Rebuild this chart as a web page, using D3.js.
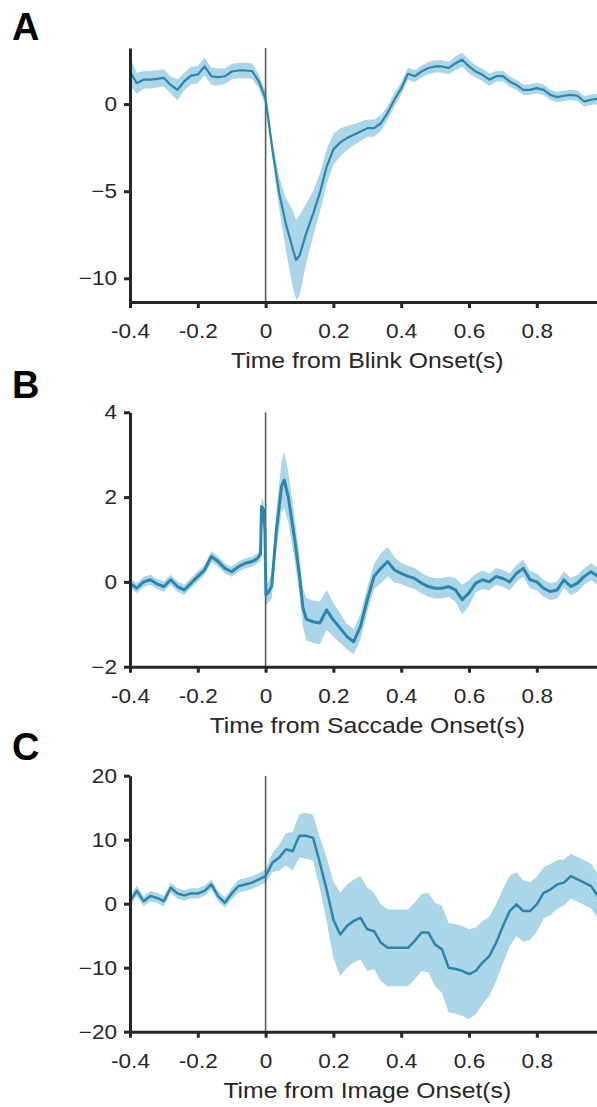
<!DOCTYPE html>
<html>
<head>
<meta charset="utf-8">
<script src="https://cdn.jsdelivr.net/npm/d3@7"></script>
<style>
    body { margin: 0; background: #fff; }
    svg { display: block; }
    .axis path, .axis line { stroke: #262626; stroke-width: 3; }
    .axis text { fill: #262626; font-family: "Liberation Sans", Arial, sans-serif; }
</style>
</head>
<body>
<div id="chart"></div>
<script>
// A - blink onset (time in s, mean and sem)
const timeA = [-0.4,-0.38,-0.36,-0.34,-0.32,-0.3,-0.28,-0.26,-0.24,-0.22,
    -0.2,-0.18,-0.16,-0.14,-0.12,-0.1,-0.08,-0.06,-0.04,-0.02,
    0,0.02,0.04,0.06,0.08,0.09,
    0.1,0.12,0.14,0.16,0.18,0.2,0.22,0.24,0.26,0.28,
    0.3,0.32,0.34,0.36,0.38,0.4,0.42,0.44,0.46,0.48,
    0.5,0.52,0.54,0.56,0.58,0.6,0.62,0.64,0.66,0.68,
    0.7,0.72,0.74,0.76,0.78,0.8,0.82,0.84,0.86,0.88,
    0.9,0.92,0.94,0.96,0.98,1.0];
const meanA = [1.87,1.2,1.4,1.4,1.45,1.5,1.1,0.82,1.3,1.63,
    1.7,2.16,1.6,1.55,1.6,1.87,1.93,1.93,1.9,1.3,
    0.3,-2.6,-5.1,-6.9,-8.3,-8.95,
    -8.7,-7.4,-6.3,-5.1,-3.6,-2.6,-2.2,-1.95,-1.76,-1.57,
    -1.38,-1.38,-1.1,-0.5,0.25,0.9,1.74,1.6,1.87,2.07,
    2.16,2.16,2.07,2.35,2.55,2.16,1.87,1.68,1.4,1.6,
    1.6,1.3,1.1,0.82,0.82,0.92,0.82,0.53,0.4,0.48,
    0.53,0.48,0.15,0.25,0.3,0.35];
const semA = [0.8,0.6,0.5,0.5,0.5,0.5,0.5,0.6,0.5,0.5,
    0.5,0.5,0.5,0.5,0.45,0.45,0.45,0.45,0.45,0.4,
    0.4,0.5,0.9,1.5,2.2,2.3,
    2.3,1.7,1.3,1.1,1.0,0.9,0.8,0.7,0.6,0.55,
    0.5,0.5,0.45,0.4,0.4,0.35,0.35,0.35,0.35,0.35,
    0.35,0.35,0.35,0.4,0.4,0.4,0.35,0.35,0.35,0.3,
    0.3,0.3,0.3,0.3,0.3,0.3,0.3,0.3,0.3,0.3,
    0.3,0.3,0.3,0.3,0.3,0.3];

// B - saccade onset
const timeB = [-0.4,-0.38,-0.36,-0.34,-0.32,-0.3,-0.28,-0.26,-0.24,-0.22,
    -0.2,-0.18,-0.16,-0.14,-0.12,-0.1,-0.08,-0.06,-0.04,
    -0.025,-0.015,-0.012,-0.006,-0.002,0.001,0.008,0.018,0.032,0.047,
    0.055,0.067,0.086,0.1,0.11,0.12,0.14,0.16,0.18,0.2,
    0.22,0.24,0.26,0.28,0.3,0.32,0.34,0.36,0.38,0.4,
    0.42,0.44,0.46,0.48,0.5,0.52,0.54,0.56,0.58,0.6,
    0.62,0.64,0.66,0.68,0.7,0.72,0.74,0.76,0.78,0.8,
    0.82,0.84,0.86,0.88,0.9,0.92,0.94,0.96,0.98,1.0];
const meanB = [-0.03,-0.15,0,0.05,-0.05,-0.11,0.05,-0.11,-0.19,-0.03,
    0.13,0.28,0.6,0.48,0.32,0.24,0.36,0.44,0.48,
    0.55,0.65,1.78,1.7,1.2,-0.3,-0.25,-0.1,1.23,2.25,
    2.4,2.0,0.99,0.15,-0.6,-0.88,-0.94,-0.97,-0.66,-0.9,
    -1.09,-1.29,-1.41,-1.05,-0.42,0.13,0.32,0.48,0.28,0.2,
    0.13,0.08,-0.03,-0.11,-0.15,-0.15,-0.11,-0.19,-0.42,-0.26,
    -0.03,0.05,0,0.13,0.08,0,0.2,0.32,0.05,0,
    -0.15,-0.23,-0.19,0.05,-0.11,-0.03,0.13,0.24,0.13,0.1];
const semB = [0.12,0.12,0.12,0.12,0.12,0.12,0.12,0.12,0.12,0.12,
    0.12,0.12,0.13,0.12,0.12,0.12,0.12,0.12,0.12,
    0.12,0.15,0.2,0.2,0.2,0.25,0.25,0.3,0.45,0.6,
    0.65,0.6,0.5,0.45,0.45,0.5,0.5,0.5,0.47,0.4,
    0.35,0.3,0.3,0.3,0.3,0.3,0.35,0.35,0.3,0.25,
    0.25,0.25,0.24,0.24,0.24,0.24,0.24,0.28,0.35,0.3,
    0.22,0.22,0.2,0.2,0.2,0.2,0.2,0.2,0.2,0.2,
    0.2,0.2,0.2,0.2,0.2,0.2,0.2,0.2,0.2,0.2];

// C - image onset
const timeC = timeA.slice();
const meanC = [0.4,2.0,0.4,1.2,0.9,0.4,2.5,1.6,1.3,1.6,
    1.6,2.0,3.0,1.2,0.15,1.6,2.75,3.0,3.3,3.8,
    4.3,6.4,7.2,8.5,8.2,9.5,
    10.6,10.6,10.3,6.4,2.2,-2.5,-4.8,-3.5,-2.7,-2.2,
    -4.0,-4.3,-6.1,-6.9,-6.9,-6.9,-6.9,-5.8,-4.5,-4.5,
    -6.4,-7.1,-10,-10.2,-10.5,-11.0,-10.5,-9.2,-8.2,-6.1,
    -3.5,-1.15,-0.1,-1.15,-1.15,-0.1,1.7,2.2,3.0,3.3,
    4.3,3.8,3.3,2.75,1.2,0.8];
const semC = [0.8,0.8,0.8,0.8,0.8,0.8,0.8,0.8,0.8,0.8,
    0.8,0.8,0.8,0.8,0.8,0.9,1.0,1.0,1.0,1.0,
    1.0,1.5,2.0,2.5,3.0,3.2,
    3.4,3.6,3.6,4.0,5.0,6.0,6.5,6.5,6.5,6.5,
    6.5,6.0,6.0,6.0,6.0,6.0,6.0,6.0,6.0,6.2,
    6.5,6.8,7.0,7.0,7.0,7.0,6.8,6.5,6.2,6.0,
    5.8,5.5,5.0,4.8,4.5,4.3,4.0,4.0,3.8,3.6,
    3.5,3.5,3.5,3.5,3.5,3.5];

const xTicks = [-0.4, -0.2, 0, 0.2, 0.4, 0.6, 0.8];
const xTickLabels = ["-0.4", "-0.2", "0", "0.2", "0.4", "0.6", "0.8"];
const yTicksA = [-10, -5, 0];
const yTicksB = [-2, 0, 2, 4];
const yTicksC = [-20, -10, 0, 10, 20];
const panelLetters = ["A", "B", "C"];
const xLabels = ["Time from Blink Onset(s)", "Time from Saccade Onset(s)", "Time from Image Onset(s)"];

class tracePanel {
    constructor(svg, opts) {
        this.svg = svg;
        this.opts = opts;
        this.data = opts.time.map((t, i) => ({t: t, m: opts.mean[i], s: opts.sem[i]}));
        this.initVis();
    }

    initVis() {
        let vis = this;
        let o = vis.opts;

        vis.left = 130;
        vis.right = 604.6;   // x = 1.0 falls just outside the page
        vis.top = o.top;
        vis.bottom = o.bottom;

        vis.x = d3.scaleLinear().domain([-0.4, 1.0]).range([vis.left, vis.right]);
        vis.y = d3.scaleLinear().domain(o.yDomain).range([vis.bottom, vis.top]);

        vis.g = vis.svg.append("g");

        vis.g.append("clipPath")
            .attr("id", "clip" + o.letter)
            .append("rect")
            .attr("x", vis.left)
            .attr("y", vis.top)
            .attr("width", vis.right - vis.left)
            .attr("height", vis.bottom - vis.top);

        vis.plot = vis.g.append("g").attr("clip-path", "url(#clip" + o.letter + ")");

        vis.updateVis();
    }

    updateVis() {
        let vis = this;
        let o = vis.opts;

        let band = d3.area()
            .x(d => vis.x(d.t))
            .y0(d => vis.y(d.m - d.s))
            .y1(d => vis.y(d.m + d.s));

        let line = d3.line()
            .x(d => vis.x(d.t))
            .y(d => vis.y(d.m));

        vis.plot.append("path")
            .datum(vis.data)
            .attr("fill", "#aad6e8")
            .attr("d", band);

        // onset marker
        vis.plot.append("line")
            .attr("x1", vis.x(0)).attr("x2", vis.x(0))
            .attr("y1", vis.top).attr("y2", vis.bottom)
            .attr("stroke", "#5a5a5a")
            .attr("stroke-width", 1.6);

        vis.plot.append("path")
            .datum(vis.data)
            .attr("fill", "none")
            .attr("stroke", "#2a86ad")
            .attr("stroke-width", o.lineWidth)
            .attr("stroke-linejoin", "round")
            .attr("d", line);

        // axes
        let xAxis = d3.axisBottom(vis.x)
            .tickValues(xTicks)
            .tickFormat((d, i) => xTickLabels[i])
            .tickSizeInner(6)
            .tickSizeOuter(0)
            .tickPadding(16);

        let yAxis = d3.axisLeft(vis.y)
            .tickValues(o.yTicks)
            .tickFormat(d3.format("d"))
            .tickSizeInner(6)
            .tickSizeOuter(0)
            .tickPadding(7);

        let gx = vis.g.append("g")
            .attr("class", "axis")
            .attr("transform", "translate(0," + vis.bottom + ")")
            .call(xAxis);
        gx.selectAll("text")
            .style("font-size", "20px")
            .attr("transform", "scale(1.13,1)");

        let gy = vis.g.append("g")
            .attr("class", "axis")
            .attr("transform", "translate(" + vis.left + ",0)")
            .call(yAxis);
        gy.selectAll("text")
            .style("font-size", "20px")
            .attr("x", -13 / 1.13)
            .attr("transform", "scale(1.13,1)");

        vis.g.append("text")
            .attr("transform", "translate(" + ((vis.left + vis.right) / 2) + "," + (vis.bottom + 66) + ") scale(1.1,1)")
            .attr("text-anchor", "middle")
            .style("font-family", "'Liberation Sans', Arial, sans-serif")
            .style("font-size", "22.5px")
            .style("fill", "#262626")
            .text(o.xLabel);

        vis.g.append("text")
            .attr("x", 12)
            .attr("y", o.letterY)
            .style("font-family", "'Liberation Sans', Arial, sans-serif")
            .style("font-size", "38px")
            .style("font-weight", "bold")
            .style("fill", "#000")
            .text(o.letter);
    }
}

let svg = d3.select("#chart").append("svg")
    .attr("width", 597)
    .attr("height", 1107);

new tracePanel(svg, {
    letter: panelLetters[0], letterY: 40, xLabel: xLabels[0],
    time: timeA, mean: meanA, sem: semA,
    top: 48, bottom: 302, yDomain: [-11.36, 3.22], yTicks: yTicksA, lineWidth: 2.2
});
new tracePanel(svg, {
    letter: panelLetters[1], letterY: 398, xLabel: xLabels[1],
    time: timeB, mean: meanB, sem: semB,
    top: 412.3, bottom: 666.7, yDomain: [-2, 4], yTicks: yTicksB, lineWidth: 3
});
new tracePanel(svg, {
    letter: panelLetters[2], letterY: 760, xLabel: xLabels[2],
    time: timeC, mean: meanC, sem: semC,
    top: 775.7, bottom: 1031.7, yDomain: [-20, 20], yTicks: yTicksC, lineWidth: 2.5
});
</script>
</body>
</html>
